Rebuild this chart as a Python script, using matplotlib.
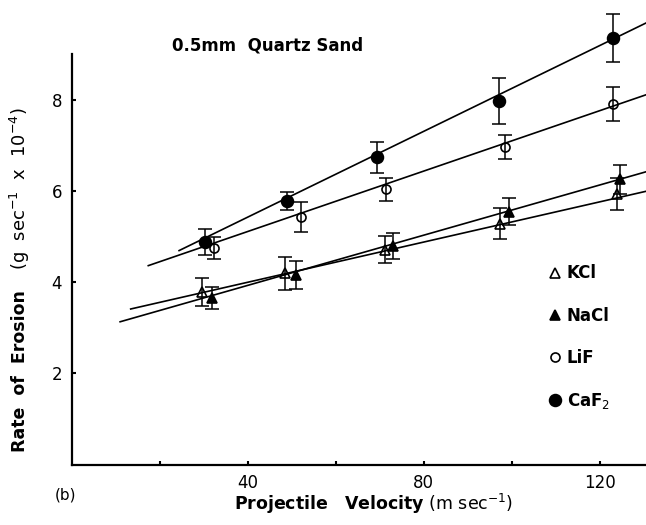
import matplotlib.pyplot as plt

# Rate of erosion vs projectile velocity, 0.5 mm quartz sand
kcl_v = [29.6, 48.5, 71.1, 97.3, 124.0]
kcl_rate = [3.78, 4.19, 4.71, 5.28, 5.94]
kcl_err = [0.30, 0.36, 0.30, 0.34, 0.35]

nacl_v = [31.9, 50.9, 73.1, 99.4, 124.7]
nacl_rate = [3.66, 4.15, 4.79, 5.54, 6.25]
nacl_err = [0.24, 0.31, 0.28, 0.30, 0.32]

lif_v = [32.4, 52.0, 71.4, 98.5, 123.1]
lif_rate = [4.75, 5.42, 6.03, 6.96, 7.90]
lif_err = [0.24, 0.33, 0.25, 0.27, 0.38]

caf2_v = [30.3, 49.0, 69.3, 97.0, 123.1]
caf2_rate = [4.88, 5.78, 6.73, 7.97, 9.35]
caf2_err = [0.29, 0.20, 0.33, 0.50, 0.52]

# fitted lines as drawn: start velocity/rate, rate at the end velocity
fit_v0 = [13.4, 11.0, 17.4, 24.4]
fit_r0 = [3.41, 3.13, 4.36, 4.69]
fit_v1 = 131
fit_r1 = [6.00, 6.43, 8.12, 9.70]

xticks = [20, 40, 60, 80, 100, 120]
xticklabels = ['', '40', '', '80', '', '120']
yticks = [2, 4, 6, 8]

fig = plt.figure(figsize=(6.46, 5.25), dpi=100)
ax = fig.add_axes([0.111, 0.115, 0.889, 0.878])

series = [
    (kcl_v, kcl_rate, kcl_err, '^', 'none', 6.5, 'KCl'),
    (nacl_v, nacl_rate, nacl_err, '^', 'black', 6.5, 'NaCl'),
    (lif_v, lif_rate, lif_err, 'o', 'none', 6.5, 'LiF'),
    (caf2_v, caf2_rate, caf2_err, 'o', 'black', 8.5, 'CaF$_2$'),
]

for i, (v, r, e, m, fc, ms, lab) in enumerate(series):
    ax.plot([fit_v0[i], fit_v1], [fit_r0[i], fit_r1[i]], color='black', lw=1.2, zorder=1)
    ax.errorbar(v, r, yerr=e, fmt='none', ecolor='black', elinewidth=1.1,
                capsize=5, capthick=1.1, zorder=2)
    ax.plot(v, r, ls='none', marker=m, ms=ms, mfc=fc, mec='black', mew=1.2,
            label=lab, zorder=3)

ax.set_xlim(0, 130.5)
ax.set_ylim(0, 10.1)
ax.set_xticks(xticks)
ax.set_xticklabels(xticklabels)
ax.set_yticks(yticks)
ax.tick_params(direction='in', length=3, width=1.5, labelsize=12, pad=7)

ax.spines['top'].set_visible(False)
ax.spines['right'].set_visible(False)
ax.spines['left'].set_bounds(0, 9.0)
ax.spines['left'].set_linewidth(1.6)
ax.spines['bottom'].set_linewidth(1.6)

ax.set_xlabel(r'$\mathbf{Projectile\ \ \ Velocity}$ (m sec$^{-1}$)', fontsize=12.5, labelpad=1)
ax.xaxis.set_label_coords(0.525, -0.06, transform=ax.transAxes)
ax.xaxis.label.set_va('top')

# y label in two parts: bold name, lighter units
fig.text(0.031, 0.293, 'Rate  of  Erosion', rotation=90, fontsize=12.5,
         fontweight='bold', ha='center', va='center')
fig.text(0.031, 0.64, '(g  sec$^{-1}$  x  10$^{-4}$)', rotation=90, fontsize=13,
         ha='center', va='center')

ax.text(22.8, 9.19, '0.5mm  Quartz Sand', fontsize=12, fontweight='bold', va='center')
fig.text(0.085, 0.057, '(b)', fontsize=11, ha='left', va='center')

ax.legend(loc='upper left', bbox_to_anchor=(0.81, 0.467), frameon=False,
          handlelength=0.4, handletextpad=0.5, labelspacing=1.45,
          prop={'weight': 'bold', 'size': 12})

fig.savefig('out.png', dpi=100)
